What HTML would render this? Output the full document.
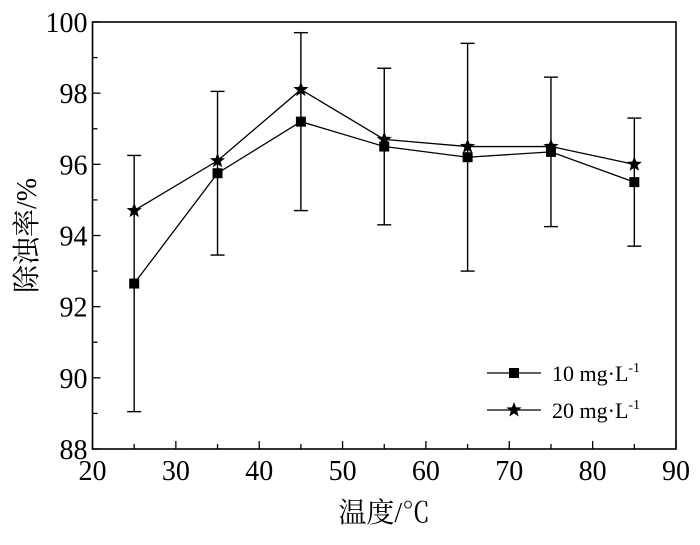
<!DOCTYPE html>
<html><head><meta charset="utf-8"><style>
body{margin:0;background:#fff}
svg text{font-family:"Liberation Serif","Noto Serif CJK SC",serif;fill:#000}
</style></head><body>
<svg id="c" width="700" height="540" xmlns="http://www.w3.org/2000/svg"></svg>
<script>
const temps=[25,35,45,55,65,75,85];
const s10=[92.65,95.75,97.2,96.5,96.2,96.35,95.5];
const err10=[3.6,2.3,2.5,2.2,3.2,2.1,1.8];
const s20=[94.7,96.1,98.1,96.7,96.5,96.5,96.0];
const xTicks=[20,30,40,50,60,70,80,90];
const yTicks=[88,90,92,94,96,98,100];
const L=92.5,R=676,T=22,B=449;
const X=v=>L+(v-20)/70*(R-L);
const Y=v=>B-(v-88)/12*(B-T);
const svg=document.getElementById('c');
const NS='http://www.w3.org/2000/svg';
function el(tag,attrs,parent){const e=document.createElementNS(NS,tag);for(const k in attrs)e.setAttribute(k,attrs[k]);(parent||svg).appendChild(e);return e;}
let e;
e=el('rect',{x:L,y:T,width:R-L,height:B-T,fill:'none',stroke:'#000','stroke-width':1.6});


for(let v=20;v<=90;v+=5){const len=v%10===0?8:5;
 e=el('line',{x1:X(v),x2:X(v),y1:B,y2:B-len,stroke:'#000','stroke-width':1.3});
 
 }
xTicks.forEach(v=>{e=el('text',{x:X(v),y:B+31,'font-size':28,'text-anchor':'middle'});e.textContent=v;
 
 });
for(let v=88;v<=100;v+=1){const len=v%2===0?8:5;
 e=el('line',{x1:L,x2:L+len,y1:Y(v),y2:Y(v),stroke:'#000','stroke-width':1.3});
 
 }
yTicks.forEach(v=>{e=el('text',{x:L-5,y:Y(v)+10,'font-size':28,'text-anchor':'end'});e.textContent=v;
 
 });
e=el('text',{x:(L+R)/2,y:522,'font-size':28,'text-anchor':'middle'});e.textContent='温度/℃';


e=el('text',{x:0,y:0,'font-size':28,'text-anchor':'middle',transform:`translate(36,${(T+B)/2}) rotate(-90)`});e.textContent='除浊率/%';


temps.forEach((t,i)=>{const x=X(t),y1=Y(s10[i]-err10[i]),y2=Y(s10[i]+err10[i]);
 const g=el('g',{stroke:'#000','stroke-width':1.4});
 
 
 el('line',{x1:x,x2:x,y1:y1,y2:y2},g);el('line',{x1:x-7,x2:x+7,y1:y1,y2:y1},g);el('line',{x1:x-7,x2:x+7,y1:y2,y2:y2},g);});
function star(cx,cy,r){let p=[];for(let k=0;k<10;k++){const a=-Math.PI/2+k*Math.PI/5,rr=k%2?r*0.42:r;p.push((cx+rr*Math.cos(a)).toFixed(1)+','+(cy+rr*Math.sin(a)).toFixed(1));}return p.join(' ');}
e=el('polyline',{points:temps.map((t,i)=>X(t)+','+Y(s10[i])).join(' '),fill:'none',stroke:'#000','stroke-width':1.3});


e=el('polyline',{points:temps.map((t,i)=>X(t)+','+Y(s20[i])).join(' '),fill:'none',stroke:'#000','stroke-width':1.3});


temps.forEach((t,i)=>{e=el('rect',{x:X(t)-5,y:Y(s10[i])-5,width:10,height:10,fill:'#000'});
 
 
 e=el('polygon',{points:star(X(t),Y(s20[i]),8),fill:'#000'});
 
 });
e=el('line',{x1:487,x2:541,y1:373,y2:373,stroke:'#000','stroke-width':1.3});


e=el('rect',{x:509,y:368,width:10,height:10,fill:'#000'});


e=el('text',{x:552,y:381,'font-size':22});e.innerHTML='10 mg·L<tspan dy="-9" font-size="14">-1</tspan>';


e=el('line',{x1:487,x2:541,y1:410,y2:410,stroke:'#000','stroke-width':1.3});


e=el('polygon',{points:star(514,410,8),fill:'#000'});


e=el('text',{x:552,y:418,'font-size':22});e.innerHTML='20 mg·L<tspan dy="-9" font-size="14">-1</tspan>';


</script>
</body></html>
